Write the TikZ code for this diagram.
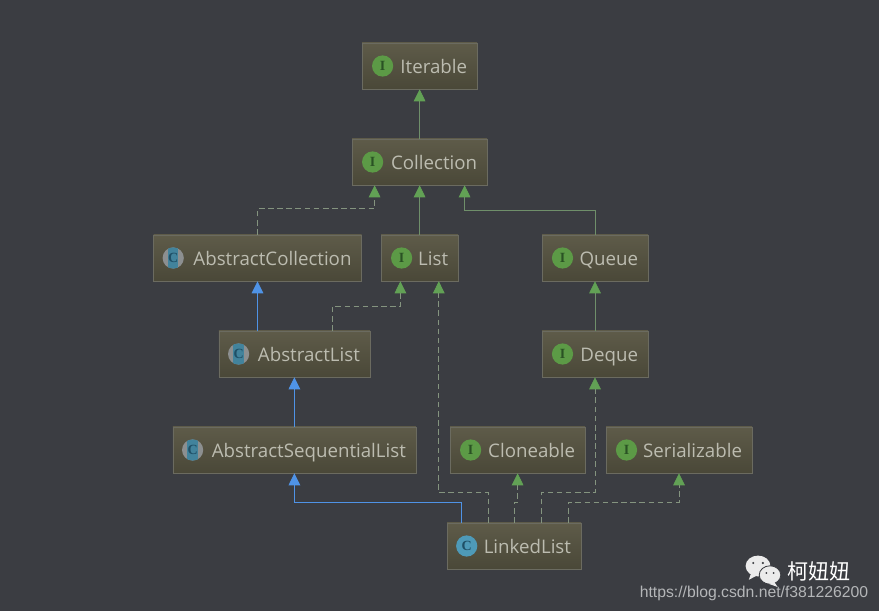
\documentclass[tikz,border=0pt]{standalone}
\usepackage{fontspec}
\setmainfont{Open Sans}
\newfontfamily\cjkfont{Noto Sans CJK SC}
\newfontfamily\urlfont{Liberation Sans}
\newfontfamily\iconfont{Liberation Serif}
\usetikzlibrary{arrows.meta}
\definecolor{bgdark}{HTML}{3B3D42}
\definecolor{boxtop}{HTML}{5E5B49}
\definecolor{boxbot}{HTML}{4A4838}
\definecolor{boxline}{HTML}{6B6B60}
\definecolor{boxtext}{HTML}{BCBCB0}
\definecolor{ifgreen}{HTML}{5C9A46}
\definecolor{ifdark}{HTML}{2A5224}
\definecolor{clblue}{HTML}{4E9AB8}
\definecolor{cldark}{HTML}{1F4F66}
\definecolor{clgray}{HTML}{8C8F90}
\definecolor{arrgreen}{HTML}{62A155}
\definecolor{arrline}{HTML}{6F8F6A}
\definecolor{arrdash}{HTML}{84947F}
\definecolor{arrblue}{HTML}{4F93E6}
\definecolor{urlgray}{HTML}{B4B6B8}

\begin{document}
\begin{tikzpicture}[
  font=\fontsize{13.3}{16}\selectfont,
  box/.style={draw=boxline, top color=boxtop, bottom color=boxbot, align=right,
              inner xsep=0.25cm, inner ysep=0pt, minimum height=1.15cm, text=boxtext,
              text height=0.5cm, text depth=0.1cm},
  icon/.style={circle, inner sep=0pt, minimum size=0.53cm, font=\iconfont\fontsize{10}{10}\selectfont\bfseries},
  ifc/.style={icon, fill=ifgreen, text=ifdark},
  cls/.style={icon, fill=clblue, text=cldark},
  abscls/.style={icon, fill=clgray, text=cldark, path picture={
      \fill[clblue!85!black] ([xshift=-0.13cm]path picture bounding box.south)
        rectangle ([xshift=0.13cm]path picture bounding box.north);}},
  ext/.style={-{Triangle[length=0.3cm,width=0.29cm,color=arrgreen]}, draw=arrline, line width=0.5pt},
  impl/.style={ext, draw=arrdash, dash pattern=on 4pt off 2.5pt},
  sub/.style={-{Triangle[length=0.3cm,width=0.29cm]}, arrblue, line width=0.6pt},
]
\useasboundingbox[fill=bgdark] (0,0) rectangle (21.975,15.275);
% Interfaces, top
\node[box, text width=2.375cm] (iterable) at (10.49,13.625) {Iterable};
\node[box, text width=2.875cm] (collection) at (10.49,11.225) {Collection};
% Third row
\node[box, text width=4.7cm] (abscollection) at (6.4375,8.825) {AbstractCollection};
\node[box, text width=1.425cm] (list) at (10.49,8.825) {List};
\node[box, text width=2.15cm] (queue) at (14.875,8.825) {Queue};
% Fourth row
\node[box, text width=3.275cm] (abslist) at (7.36,6.425) {AbstractList};
\node[box, text width=2.15cm] (deque) at (14.875,6.425) {Deque};
% Fifth row
\node[box, text width=5.575cm] (absseqlist) at (7.36,4.025) {AbstractSequentialList};
\node[box, text width=2.875cm] (cloneable) at (12.94,4.025) {Cloneable};
\node[box, text width=3.15cm] (serializable) at (16.975,4.025) {Serializable};
% Bottom
\node[box, text width=2.85cm] (linkedlist) at (12.85,1.625) {LinkedList};
% Icons
\node[ifc] (iterableicon) at ([xshift=0.52cm]iterable.west) {I};
\node[ifc] (collectionicon) at ([xshift=0.52cm]collection.west) {I};
\node[abscls] (abscollectionicon) at ([xshift=0.5cm]abscollection.west) {C};
\node[ifc] (listicon) at ([xshift=0.52cm]list.west) {I};
\node[ifc] (queueicon) at ([xshift=0.52cm]queue.west) {I};
\node[abscls] (abslisticon) at ([xshift=0.5cm]abslist.west) {C};
\node[ifc] (dequeicon) at ([xshift=0.52cm]deque.west) {I};
\node[abscls] (absseqlisticon) at ([xshift=0.5cm]absseqlist.west) {C};
\node[ifc] (cloneableicon) at ([xshift=0.52cm]cloneable.west) {I};
\node[ifc] (serializableicon) at ([xshift=0.52cm]serializable.west) {I};
\node[cls] (linkedlisticon) at ([xshift=0.5cm]linkedlist.west) {C};
% Edges
\draw[ext] (collection) -- (iterable);
\draw[ext] (list) -- (collection);
\draw[impl] (abscollection.north) -- ++(0,0.65) -| ([xshift=-1.125cm]collection.south);
\draw[ext] (queue.north) -- ++(0,0.62) -| ([xshift=1.125cm]collection.south);
\draw[sub] (abslist.north -| abscollection.south) -- (abscollection.south);
\draw[impl] ([xshift=0.94cm]abslist.north) -- ++(0,0.6) -| ([xshift=-0.48cm]list.south);
\draw[ext] (deque) -- (queue);
\draw[sub] (absseqlist) -- (abslist);
\draw[sub] ([xshift=-1.325cm]linkedlist.north) -- ++(0,0.5) -| (absseqlist.south);
\draw[impl] ([xshift=-0.65cm]linkedlist.north) -- ++(0,0.75) -| ([xshift=0.48cm]list.south);
\draw[impl] (linkedlist.north) -- ++(0,0.5) -- ++(0.09,0) -- (cloneable.south);
\draw[impl] ([xshift=0.675cm]linkedlist.north) -- ++(0,0.75) -| (deque.south);
\draw[impl] ([xshift=1.35cm]linkedlist.north) -- ++(0,0.5) -| (serializable.south);
% Watermark
\fill[white!92!black] (18.95,1.125) ellipse (0.31cm and 0.26cm);
\fill[white!92!black] (18.78,0.95) -- (18.72,0.78) -- (18.95,0.9) -- cycle;
\fill[white!92!black, draw=bgdark, line width=0.6pt] (19.25,0.9) ellipse (0.27cm and 0.23cm);
\fill[white!92!black] (19.36,0.72) -- (19.44,0.6) -- (19.22,0.68) -- cycle;
\fill[bgdark] (18.83,1.2) circle (0.03cm) (19.07,1.2) circle (0.03cm)
  (19.16,0.95) circle (0.025cm) (19.34,0.95) circle (0.025cm);
\node[font=\cjkfont\fontsize{15}{18}\selectfont, text=white, inner sep=0pt] (wxname) at (20.47,1.0) {柯妞妞};
\node[font=\urlfont\fontsize{11.2}{13}\selectfont, text=urlgray, inner sep=0pt] (wxurl) at (18.85,0.44) {https://blog.csdn.net/f381226200};
\end{tikzpicture}
\end{document}
